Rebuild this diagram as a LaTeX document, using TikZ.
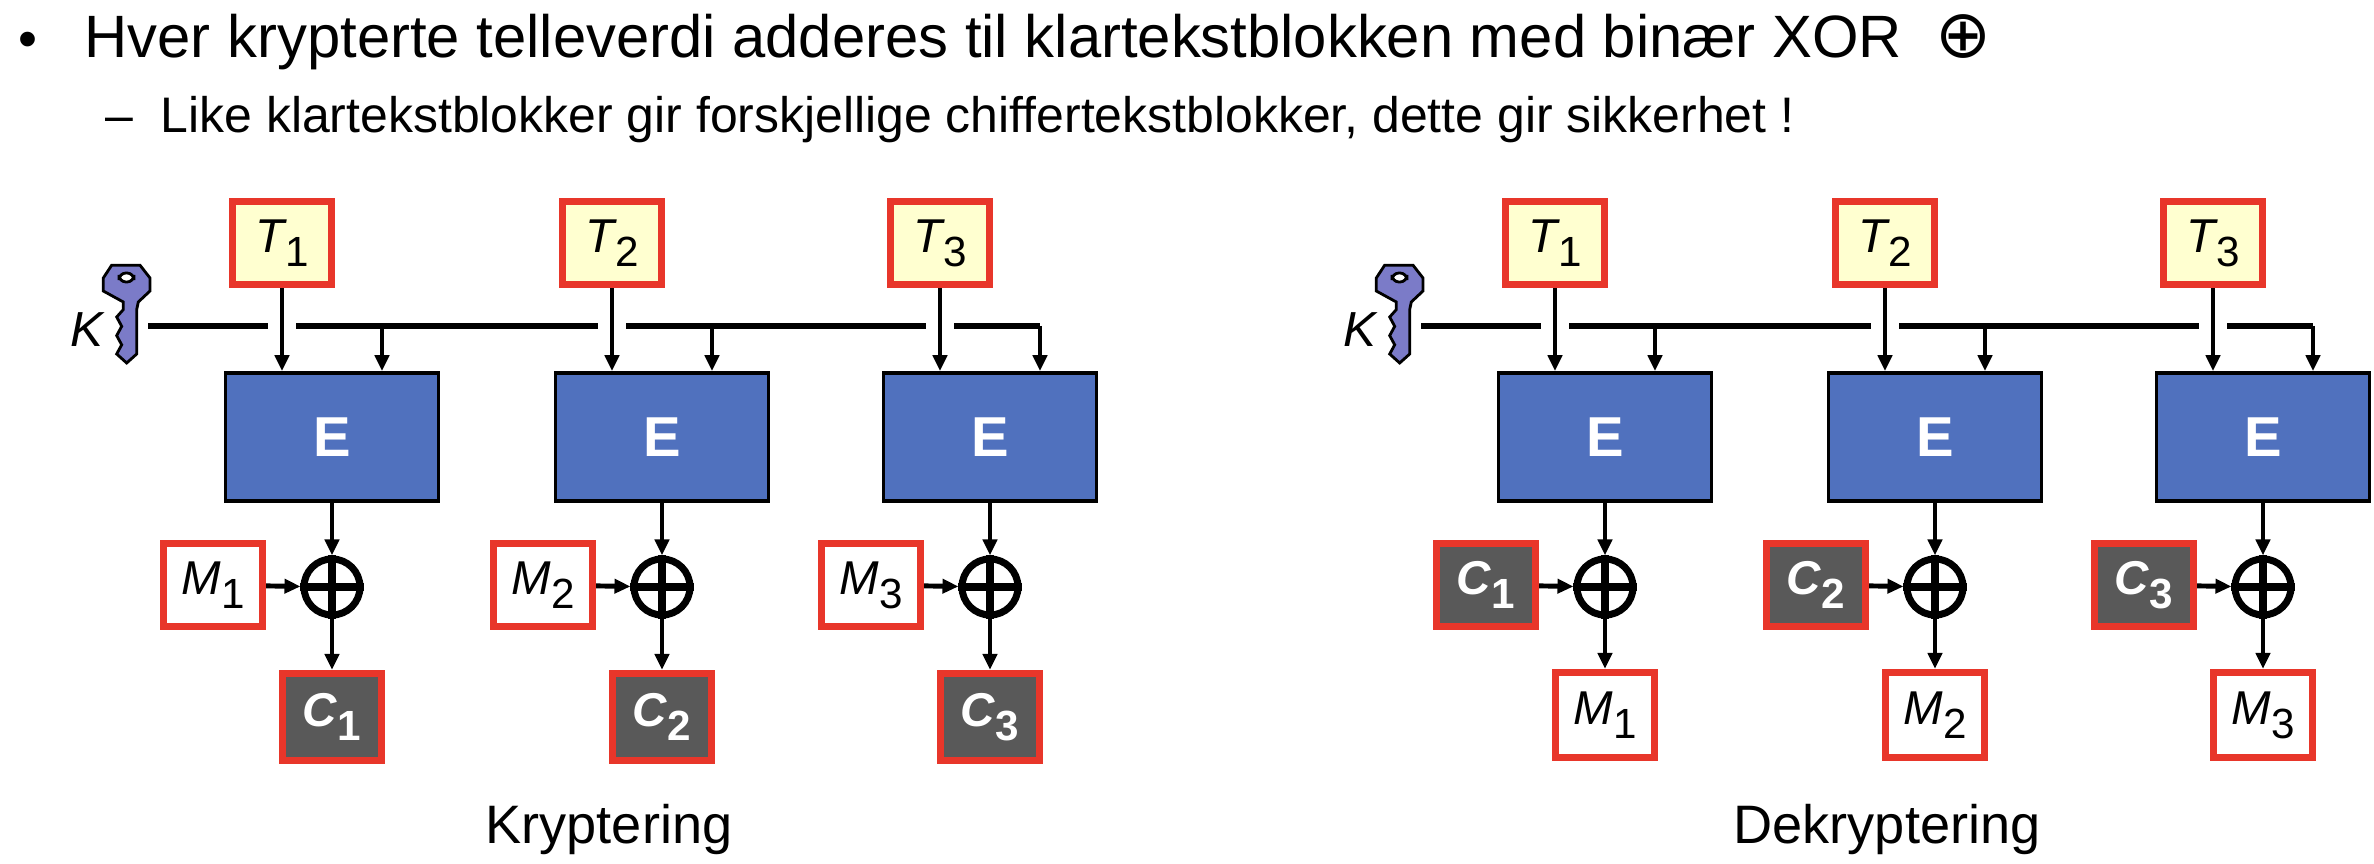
\documentclass[tikz,border=0pt]{standalone}
\usepackage{fontspec}
\setmainfont{Liberation Sans}
\newfontfamily\dejavu{DejaVu Sans}
\usetikzlibrary{arrows.meta}
\definecolor{rd}{HTML}{E8362A}
\definecolor{yel}{HTML}{FFFFD0}
\definecolor{eb}{HTML}{5071BE}
\definecolor{dg}{HTML}{595959}
\definecolor{keyc}{HTML}{7B7BC8}
\newcommand\sublbl[2]{#1\kern0.02em\raisebox{-0.55ex}{\upshape\fontsize{12}{12}\selectfont #2}}
\tikzset{
  bx/.style={draw=rd, line width=2pt, minimum width=0.99cm, minimum height=0.83cm, inner sep=0pt, font=\fontsize{13.5}{13.5}\selectfont\itshape},
  tbox/.style={bx, fill=yel},
  mbox/.style={bx, fill=white},
  cbox/.style={bx, fill=dg, text=white, minimum height=0.87cm, font=\fontsize{13.5}{13.5}\selectfont\bfseries\itshape},
  ebox/.style={draw=black, line width=1pt, fill=eb, minimum width=2.13cm, minimum height=1.28cm, inner sep=0pt, text=white, font=\fontsize{16}{16}\selectfont\bfseries},
  xorn/.style={circle, draw, line width=2pt, minimum size=0.56cm, inner sep=0pt},
  arr/.style={line width=1.4pt, -{Triangle[length=0.16cm,width=0.14cm]}},
  kl/.style={line width=1.7pt},
  txt/.style={inner sep=0pt, anchor=base west}
}
\begin{document}
\begin{tikzpicture}[x=0.01cm,y=-0.01cm]
\useasboundingbox (0,0) rectangle (2374,864);
% title
\node[txt, font=\fontsize{15.4}{15.4}\selectfont] (b1) at (18,58) {•};
\node[txt, font=\fontsize{17}{17}\selectfont] (l1) at (84,58) {Hver krypterte telleverdi adderes til klartekstblokken med binær XOR \ {\dejavu\fontsize{19}{19}\selectfont ⊕}};
\node[txt, font=\fontsize{14.2}{14.2}\selectfont] (d2) at (105,133) {–};
\node[txt, font=\fontsize{14.2}{14.2}\selectfont] (l2) at (160,133) {Like klartekstblokker gir forskjellige chiffertekstblokker, dette gir sikkerhet !};
\foreach \off/\P in {0/L,1273/R}{
  \begin{scope}[xshift=\off*0.01cm]
  % key
  \draw[fill=keyc, line width=0.8pt] (111.7,265.2) -- (140,265.2) -- (150,278) -- (150,291) -- (138.3,302) -- (136.7,309.6) -- (136.7,354) -- (126.7,363) -- (116.7,354) -- (121.7,344.8) -- (116.7,335.6) -- (121.7,326.3) -- (116.7,317) -- (123.3,309.6) -- (123.3,302) -- (103.3,291) -- (103.3,278) -- cycle;
  \draw[fill=white, line width=0.8pt, rounded corners=2pt] (119,273) rectangle (134,282);
  \node[font=\fontsize{14}{14}\selectfont\itshape, inner sep=0pt] (\P K) at (87,330) {K};
  \foreach \i/\X in {1/332,2/662,3/990}{
    \node[tbox] (\P T\i) at (\X-50,243) {\sublbl{T}{\i}};
    \node[ebox] (\P E\i) at (\X,437) {E};
    \node[xorn] (\P X\i) at (\X,587) {};
    \draw[line width=2pt] (\P X\i.north) -- (\P X\i.south) (\P X\i.west) -- (\P X\i.east);
    \draw[arr] (\P T\i) -- (\P T\i |- \P E\i.north);
    \draw[arr] (\P E\i) -- (\P X\i);
  }
  \coordinate (\P k0) at (148,326);
  \coordinate (\P k1) at (268,326); \coordinate (\P k2) at (296,326);
  \coordinate (\P k3) at (598,326); \coordinate (\P k4) at (626,326);
  \coordinate (\P k5) at (926,326); \coordinate (\P k6) at (954,326);
  \coordinate (\P k7) at (1040,326);
  \draw[kl] (\P k0) -- (\P k1) (\P k2) -- (\P k3) (\P k4) -- (\P k5);
  \draw[kl] (\P k6) -- (\P k7);
  \draw[arr] (\P k7) -- (\P k7 |- \P E3.north);
  \foreach \i/\X in {1/332,2/662}{
    \coordinate (\P ka\i) at (\X+50,326);
    \draw[arr] (\P ka\i) -- (\P ka\i |- \P E\i.north);
  }
  \end{scope}
}
% encryption boxes
\foreach \i/\X in {1/332,2/662,3/990}{
  \node[mbox] (LM\i) at (\X-119,585) {\sublbl{M}{\i}};
  \node[cbox] (LC\i) at (\X,717) {\sublbl{C}{\i}};
  \draw[arr] (LM\i) -- (LX\i);
  \draw[arr] (LX\i) -- (LC\i);
}
% decryption boxes
\foreach \i/\X in {1/1605,2/1935,3/2263}{
  \node[cbox, minimum height=0.83cm] (RC\i) at (\X-119,585) {\sublbl{C}{\i}};
  \node[mbox, minimum height=0.85cm] (RM\i) at (\X,715) {\sublbl{M}{\i}};
  \draw[arr] (RC\i) -- (RX\i);
  \draw[arr] (RX\i) -- (RM\i);
}
\node[inner sep=0pt, anchor=base, font=\fontsize{15.4}{15.4}\selectfont] (cap1) at (609,844) {Kryptering};
\node[inner sep=0pt, anchor=base, font=\fontsize{15.4}{15.4}\selectfont] (cap2) at (1887,844) {Dekryptering};
\end{tikzpicture}
\end{document}
